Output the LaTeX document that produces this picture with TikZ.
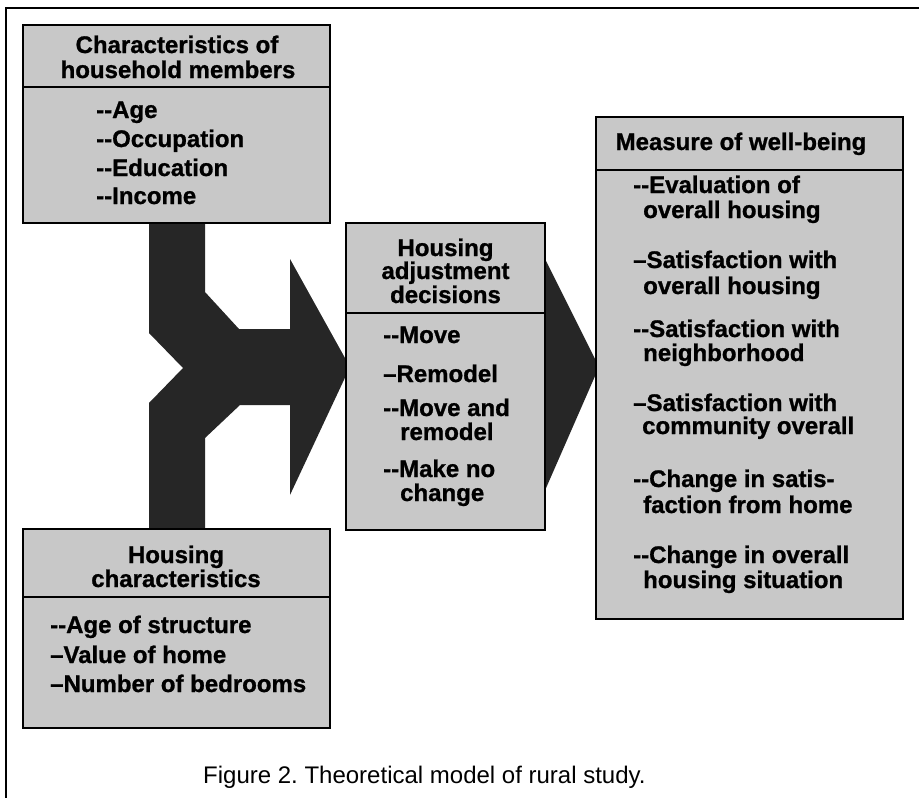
\documentclass[tikz,border=0pt]{standalone}
\usepackage{fontspec}
\setmainfont{Liberation Sans}
\newfontfamily\boxfont{Liberation Sans}[FakeBold=1]
\definecolor{boxgray}{RGB}{200,200,200}
\definecolor{arrowdark}{RGB}{38,38,38}
\frenchspacing
\begin{document}
\begin{tikzpicture}[x=1pt,y=-1pt,
  box/.style={draw=black, line width=2.5pt, fill=boxgray, inner sep=0pt, outer sep=0pt},
  divider/.style={draw=black, line width=2pt},
  hdr/.style={font=\boxfont\bfseries\fontsize{24}{27}\selectfont, anchor=base, inner sep=0pt},
  itm/.style={font=\boxfont\bfseries\fontsize{24}{27}\selectfont, anchor=base west, inner sep=0pt},
  bigarrow/.style={fill=arrowdark},
  frameline/.style={draw=black, line width=2pt},
  captionstyle/.style={font=\fontsize{24}{27}\selectfont, anchor=base west, inner sep=0pt}]
\useasboundingbox (0,0) rectangle (919,798);
\fill[white] (0,0) rectangle (919,798);

% outer frame (top and left sides)
\coordinate (fr1) at (919,8);
\coordinate (fr2) at (6,8);
\coordinate (fr3) at (6,798);
\draw[frameline] (fr1) -- (fr2) -- (fr3);

% big merging arrow
\fill[bigarrow] (149,223) -- (205,223) -- (205,292) -- (239,329) -- (290,329) -- (290,259)
  -- (350,367) -- (290,495) -- (290,405) -- (240,405) -- (205,438) -- (205,529)
  -- (149,529) -- (149,403) -- (183,368) -- (149,333) -- cycle;

% second arrow
\fill[bigarrow] (543,255) -- (599,367) -- (543,495) -- cycle;

% boxes
\node[box, minimum width=307pt, minimum height=198pt] (hm) at (176.5,124) {};
\draw[divider] (hm.west |- 0,87) -- (hm.east |- 0,87);
\node[box, minimum width=199pt, minimum height=307pt] (had) at (445.5,376.5) {};
\draw[divider] (had.west |- 0,313) -- (had.east |- 0,313);
\node[box, minimum width=307pt, minimum height=502pt] (mwb) at (749.5,368) {};
\draw[divider] (mwb.west |- 0,170) -- (mwb.east |- 0,170);
\node[box, minimum width=307pt, minimum height=199pt] (hc) at (176.5,628.5) {};
\draw[divider] (hc.west |- 0,597) -- (hc.east |- 0,597);

% top-left texts
\node[hdr] (hm1) at (177,53) {Characteristics of};
\node[hdr] (hm2) at (178,78) {household members};
\node[itm] (hm3) at (96,118) {--Age};
\node[itm] (hm4) at (96,147) {--Occupation};
\node[itm] (hm5) at (96,176) {--Education};
\node[itm] (hm6) at (96,204) {--Income};

% middle texts
\node[hdr] (ha1) at (445.5,256) {Housing};
\node[hdr] (ha2) at (445.5,279) {adjustment};
\node[hdr] (ha3) at (445.5,303) {decisions};
\node[itm] (ha4) at (383,343) {--Move};
\node[itm] (ha5) at (383,382) {–Remodel};
\node[itm] (ha6) at (383,416) {--Move and};
\node[itm] (ha7) at (400,440) {remodel};
\node[itm] (ha8) at (383,477) {--Make no};
\node[itm] (ha9) at (400,501) {change};

% right texts
\node[hdr] (mw0) at (741,150) {Measure of well-being};
\node[itm] (mw1) at (633,193) {--Evaluation of};
\node[itm] (mw2) at (643,218) {overall housing};
\node[itm] (mw3) at (633,268) {–Satisfaction with};
\node[itm] (mw4) at (643,294) {overall housing};
\node[itm] (mw5) at (633,337) {--Satisfaction with};
\node[itm] (mw6) at (643,361) {neighborhood};
\node[itm] (mw7) at (633,411) {–Satisfaction with};
\node[itm] (mw8) at (642,434) {community overall};
\node[itm] (mw9) at (633,487) {--Change in satis-};
\node[itm] (mw10) at (643,513) {faction from home};
\node[itm] (mw11) at (633,563) {--Change in overall};
\node[itm] (mw12) at (643,588) {housing situation};

% bottom-left texts
\node[hdr] (hc1) at (176,563) {Housing};
\node[hdr] (hc2) at (176,587) {characteristics};
\node[itm] (hc3) at (50,633) {--Age of structure};
\node[itm] (hc4) at (50,663) {–Value of home};
\node[itm] (hc5) at (50,692) {–Number of bedrooms};

% caption
\node[captionstyle] (cap) at (203,783) {Figure 2. Theoretical model of rural study.};
\end{tikzpicture}
\end{document}
